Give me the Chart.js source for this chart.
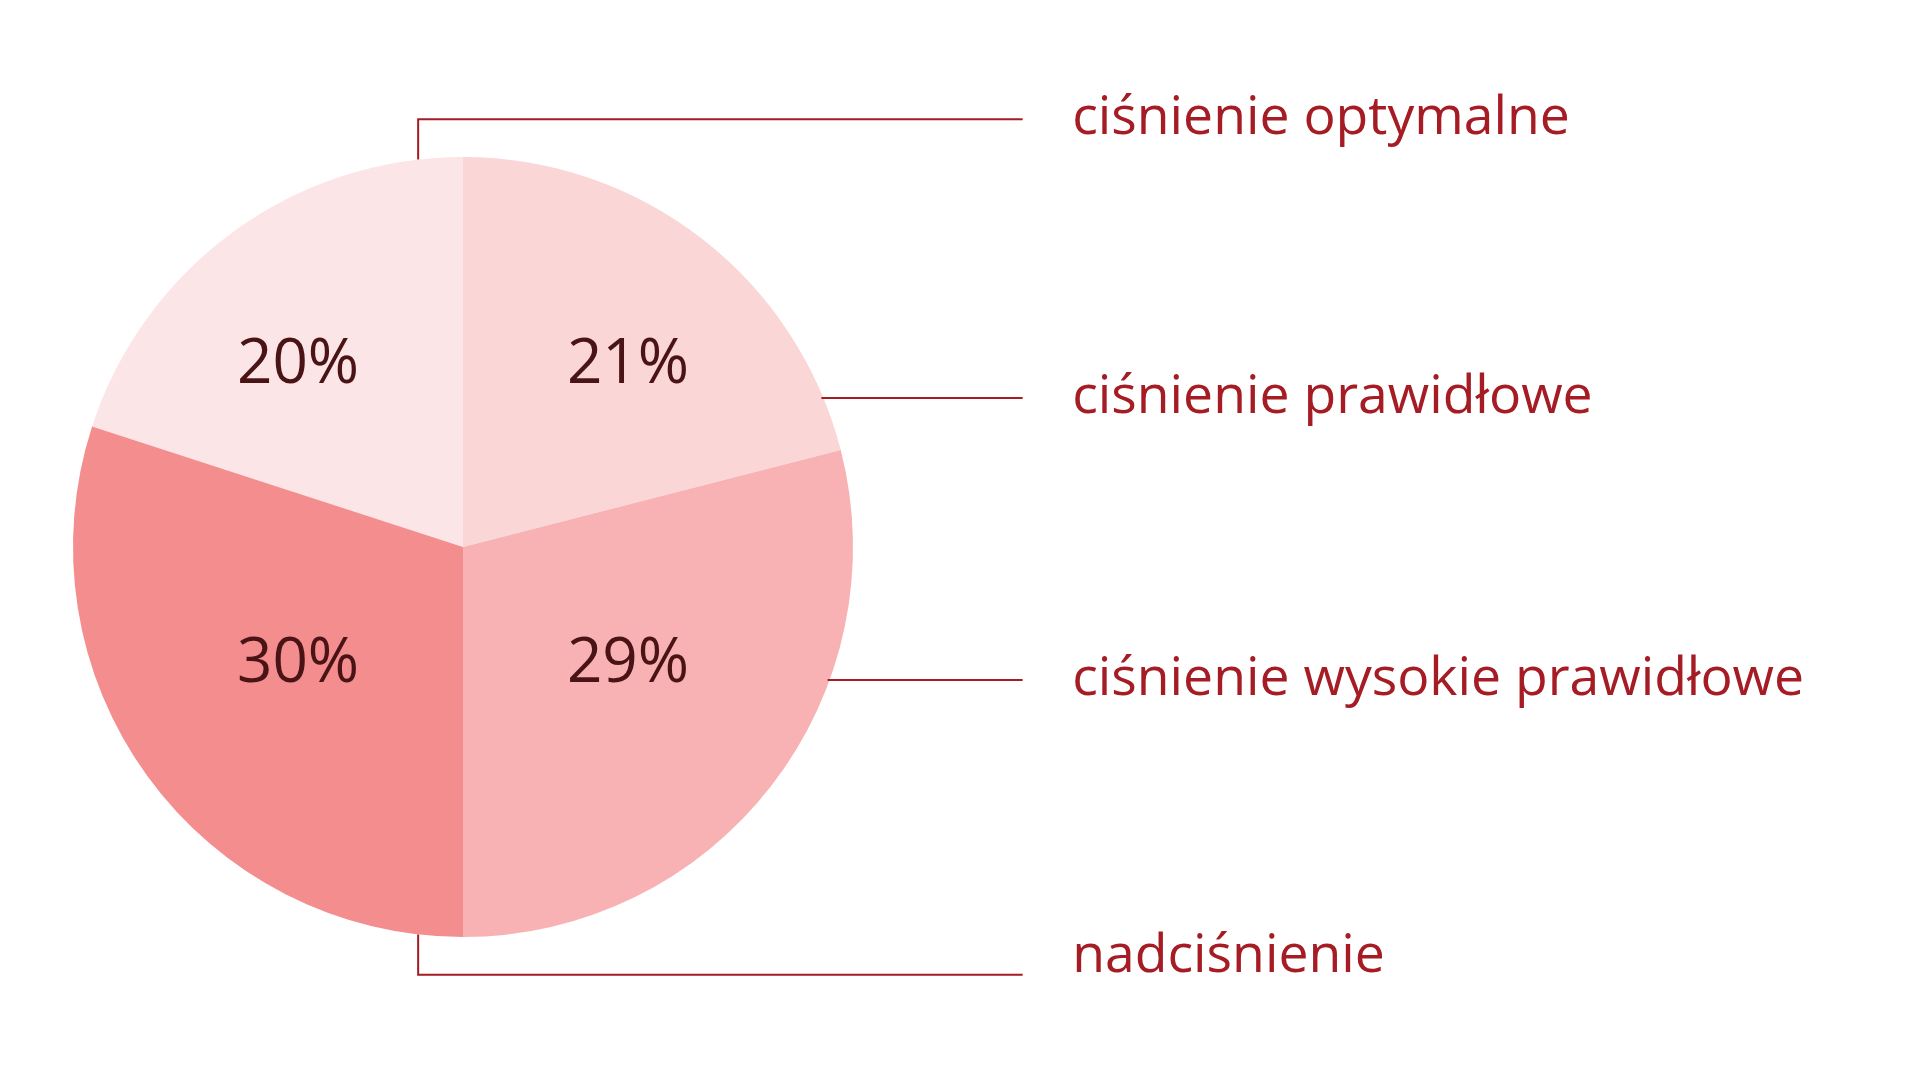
<!DOCTYPE html>
<html>
<head>
<meta charset="utf-8">
<script src="https://cdn.jsdelivr.net/npm/chart.js@4/dist/chart.umd.min.js"></script>
<style>
  html, body { margin: 0; padding: 0; background: #ffffff; }
  #wrap { width: 1920px; height: 1087px; }
</style>
</head>
<body>
<div id="wrap"><canvas id="pie" width="1920" height="1087"></canvas></div>
<script>
const categories = ['ciśnienie optymalne', 'ciśnienie prawidłowe', 'ciśnienie wysokie prawidłowe', 'nadciśnienie'];
const shares = [20, 21, 29, 30];
const sliceColors = ['#fce5e6', '#fad6d7', '#f8b2b4', '#f48d8e'];

const total = shares.reduce((a, b) => a + b, 0);
const labelRed = '#a51c24';
const darkText = '#4a1416';

// leader lines: y offset (in radii) where each label sits, and the elbow x for top / bottom ones
const leaderY = [-1.097, -0.382, 0.341, 1.097];
const textShift = [15, 15, 15, -3];
const elbowX = -0.115;

const calloutPlugin = {
  id: 'callouts',
  afterDatasetsDraw(chart) {
    const ctx = chart.ctx;
    const arcs = chart.getDatasetMeta(0).data;
    const cx = arcs[0].x, cy = arcs[0].y, r = arcs[0].outerRadius;
    const lineEnd = cx + 1.435 * r;
    const textX = cx + 1.562 * r;
    ctx.save();

    // percentages, one per quadrant
    ctx.font = '62px "Open Sans"';
    ctx.fillStyle = darkText;
    ctx.textAlign = 'center';
    ctx.textBaseline = 'alphabetic';
    arcs.forEach((arc, i) => {
      const mid = (arc.startAngle + arc.endAngle) / 2;
      const sx = Math.cos(mid) >= 0 ? 1 : -1;
      const sy = Math.sin(mid) >= 0 ? 1 : -1;
      const y = sy < 0 ? cy - 0.42 * r : cy + 0.345 * r;
      ctx.fillText(shares[i] + '%', cx + sx * 0.423 * r, y);
    });

    // leader lines and category names
    ctx.strokeStyle = labelRed;
    ctx.lineWidth = 2;
    ctx.font = '53.5px "Open Sans"';
    ctx.fillStyle = labelRed;
    ctx.textAlign = 'left';
    arcs.forEach((arc, i) => {
      const y = cy + leaderY[i] * r;
      ctx.beginPath();
      if (Math.abs(leaderY[i]) > 1) {
        const ex = cx + elbowX * r;
        const edge = cy + Math.sign(leaderY[i]) * Math.sqrt(r * r - (ex - cx) * (ex - cx));
        ctx.moveTo(ex, edge);
        ctx.lineTo(ex, y);
        ctx.lineTo(lineEnd, y);
      } else {
        const dy = y - cy;
        ctx.moveTo(cx + Math.sqrt(r * r - dy * dy) - 2, y);
        ctx.lineTo(lineEnd, y);
      }
      ctx.stroke();
      ctx.fillText(categories[i], textX, y + textShift[i]);
    });
    ctx.restore();
  }
};

new Chart(document.getElementById('pie'), {
  type: 'pie',
  data: {
    labels: categories,
    datasets: [{
      data: shares,
      backgroundColor: sliceColors,
      borderWidth: 0,
      hoverOffset: 0
    }]
  },
  options: {
    responsive: false,
    devicePixelRatio: 1,
    animation: false,
    rotation: -shares[0] / total * 360,
    layout: { padding: { left: 73, right: 1067, top: 157, bottom: 150 } },
    plugins: {
      legend: { display: false },
      tooltip: { enabled: false }
    }
  },
  plugins: [calloutPlugin]
});
</script>
</body>
</html>
